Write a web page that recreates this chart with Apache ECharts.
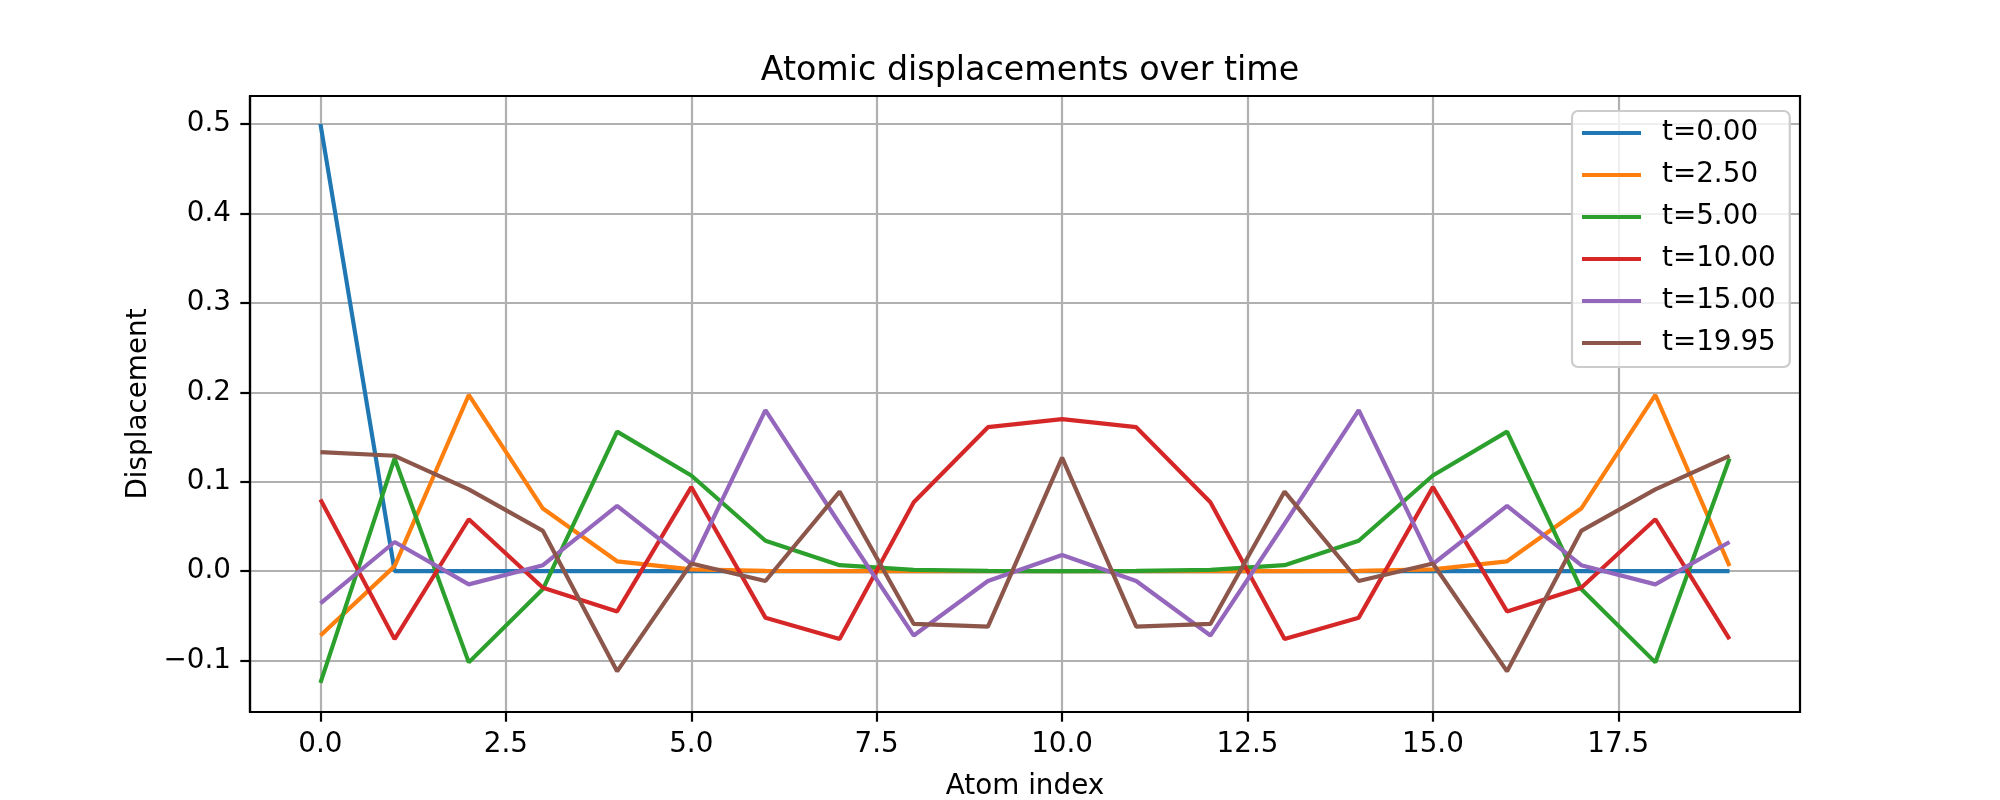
<!DOCTYPE html>
<html>
<head>
<meta charset="utf-8">
<script src="https://cdn.jsdelivr.net/npm/echarts@6/dist/echarts.min.js"></script>
<style>
html,body{margin:0;padding:0;background:#fff;}
#chart{width:2000px;height:800px;}
</style>
</head>
<body>
<div id="chart"></div>
<script>
const atomIndex = [0,1,2,3,4,5,6,7,8,9,10,11,12,13,14,15,16,17,18,19];
const seriesNames = ['t=0.00','t=2.50','t=5.00','t=10.00','t=15.00','t=19.95'];
const t0 = [0.5,0,0,0,0,0,0,0,0,0,0,0,0,0,0,0,0,0,0,0];
const t2_5 = [-0.072,0.0056,0.197,0.070,0.011,0.002,0.0003,0,0,0,0,0,0,0,0.0003,0.002,0.011,0.070,0.197,0.0056];
const t5 = [-0.125,0.126,-0.102,-0.020,0.156,0.107,0.034,0.0067,0.0015,0.0003,0,0.0003,0.0015,0.0067,0.034,0.107,0.156,-0.020,-0.102,0.126];
const t10 = [0.080,-0.076,0.058,-0.0185,-0.045,0.094,-0.052,-0.076,0.077,0.161,0.170,0.161,0.077,-0.076,-0.052,0.094,-0.045,-0.0185,0.058,-0.076];
const t15 = [-0.036,0.0326,-0.0148,0.0067,0.073,0.008,0.180,0.053,-0.072,-0.011,0.018,-0.011,-0.072,0.053,0.180,0.008,0.073,0.0067,-0.0148,0.0326];
const t19_95 = [0.133,0.129,0.0915,0.045,-0.112,0.0085,-0.011,0.089,-0.059,-0.062,0.127,-0.062,-0.059,0.089,-0.011,0.0085,-0.112,0.045,0.0915,0.129];
const xTicks = [0,2.5,5,7.5,10,12.5,15,17.5];
const yTicks = [-0.1,0,0.1,0.2,0.3,0.4,0.5];
const colors = ['#1f77b4','#ff7f0e','#2ca02c','#d62728','#9467bd','#8c564b'];

const allSeries = [t0,t2_5,t5,t10,t15,t19_95];
const FONT = 'DejaVu Sans';
const FS = 27.8;

const series = [{
  type:'line', data:[], z:1, silent:true,
  markLine:{
    z:1, silent:true, symbol:['none','none'], label:{show:false},
    lineStyle:{type:'solid', color:'#b0b0b0', width:2.2},
    emphasis:{disabled:true},
    animation:false,
    data: xTicks.map(v=>({xAxis:v})).concat(yTicks.map(v=>({yAxis:v})))
  }
}];
allSeries.forEach((arr,i)=>{
  series.push({
    name: seriesNames[i], type:'line', z:2,
    data: atomIndex.map((x,j)=>[x,arr[j]]),
    showSymbol:false, symbol:'none',
    lineStyle:{width:4.17, color:colors[i]},
    itemStyle:{color:colors[i]},
    emphasis:{disabled:true}
  });
});

const chart = echarts.init(document.getElementById('chart'), null, {renderer:'canvas'});
chart.setOption({
  animation:false,
  backgroundColor:'#fff',
  textStyle:{fontFamily:FONT},
  title:{
    text:'Atomic displacements over time',
    left:1025, top:50, textAlign:'center',
    textStyle:{fontFamily:FONT, fontSize:33.3, fontWeight:'normal', color:'#000'}
  },
  grid:{
    left:250, right:200, top:96, bottom:88,
    outerBoundsMode:'none', containLabel:false,
    show:true, borderColor:'#000', borderWidth:2.2, backgroundColor:'transparent', z:3
  },
  legend:{
    data: seriesNames, z:10,
    orient:'vertical', left:1572, top:111,
    icon:'rect', itemWidth:59, itemHeight:4.2, itemGap:12,
    padding:[7,14,9,10],
    backgroundColor:'rgba(255,255,255,0.8)',
    borderColor:'#cccccc', borderWidth:2.2, borderRadius:6,
    textStyle:{fontFamily:FONT, fontSize:FS, color:'#000', lineHeight:30, padding:[0,0,0,16]},
    selectedMode:false
  },
  xAxis:{
    type:'value', min:-0.95, max:19.95,
    name:'Atom index', nameLocation:'middle', nameGap:61,
    nameTextStyle:{fontFamily:FONT, fontSize:FS, color:'#000'},
    axisLine:{show:true, onZero:false, lineStyle:{color:'#000', width:2.2}},
    axisTick:{show:true, customValues:xTicks, length:9.7, lineStyle:{color:'#000', width:2.2}},
    axisLabel:{show:true, customValues:xTicks, margin:19, fontFamily:FONT, fontSize:FS, color:'#000',
      formatter:v=>v.toFixed(1)},
    splitLine:{show:false}
  },
  yAxis:{
    type:'value', min:-0.1575, max:0.5313,
    name:'Displacement', nameLocation:'middle', nameGap:95, nameRotate:90,
    nameTextStyle:{fontFamily:FONT, fontSize:FS, color:'#000'},
    axisLine:{show:true, onZero:false, lineStyle:{color:'#000', width:2.2}},
    axisTick:{show:true, customValues:yTicks, length:9.7, lineStyle:{color:'#000', width:2.2}},
    axisLabel:{show:true, customValues:yTicks, margin:19, fontFamily:FONT, fontSize:FS, color:'#000',
      formatter:v=>v.toFixed(1).replace('-','\u2212')},
    splitLine:{show:false}
  },
  series: series
});
</script>
</body>
</html>
